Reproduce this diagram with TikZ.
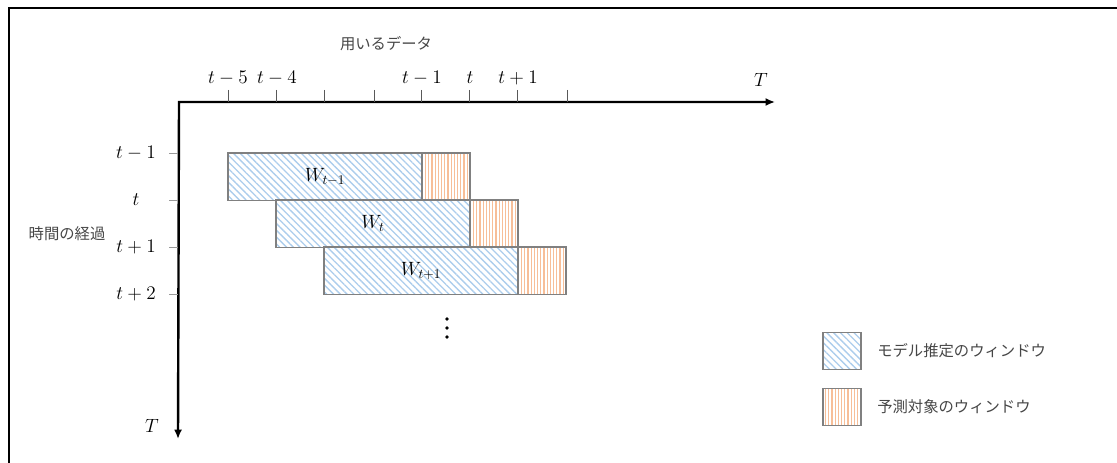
\documentclass[tikz,border=0pt]{standalone}
\usepackage{fontspec}
\newfontfamily\jpfont{Noto Sans CJK JP}
\usepackage{xcolor}
\usetikzlibrary{arrows.meta}
\usetikzlibrary{positioning}
\usetikzlibrary{patterns.meta}

\definecolor{estblue}{RGB}{172,205,236}
\definecolor{predorange}{RGB}{247,190,152}
\definecolor{textgray}{RGB}{70,70,70}

\begin{document}
\begin{tikzpicture}[
  x=0.75pt, y=-0.75pt,
  axis/.style={{Latex[length=7pt,width=6pt]}-{Latex[length=7pt,width=6pt]}, line width=1.8pt},
  tick/.style={draw=gray, line width=0.6pt},
  ticklabel/.style={font=\fontsize{14}{16}\selectfont, inner sep=0pt},
  jptext/.style={font=\jpfont\fontsize{11.5}{13}\selectfont, text=textgray, inner sep=0pt},
  estfill/.style={
    pattern={Lines[angle=-45,distance=3.6pt,line width=1.0pt]},
    pattern color=estblue
  },
  predfill/.style={
    pattern={Lines[angle=90,distance=2.4pt,line width=0.9pt]},
    pattern color=predorange
  },
  estwin/.style={
    estfill,
    draw=gray,
    line width=0.8pt,
    minimum width=145.5pt,
    minimum height=35.4pt,
    outer sep=0pt,
    font=\fontsize{14}{16}\selectfont
  },
  predwin/.style={
    predfill,
    draw=gray,
    line width=0.8pt,
    minimum width=36pt,
    minimum height=35.4pt,
    outer sep=0pt
  },
  legendbox/.style={
    draw=gray,
    line width=0.8pt,
    minimum width=28.5pt,
    minimum height=27.75pt,
    outer sep=0pt
  }
]
\useasboundingbox (0,0) rectangle (1117,463);

% frame
\draw[line width=1.4pt] (9,463) -- (9,8) -- (1117,8);

% axes
\coordinate (origin) at (179,102);
\coordinate (xend) at (775,102);
\coordinate (yend) at (178,439);
\draw[axis] (yend) -- (origin) -- (xend);

\foreach \x in {228,276,324,374,421,469,517,567}
  \draw[tick, draw=black!65] (\x,90) -- (\x,102);
\foreach \x/\lab [count=\i] in {228/t-5, 277/t-4, 422/t-1, 470/t, 518/t+1}
  \node[ticklabel, anchor=base] (hlab\i) at (\x,84) {$\lab$};
\node[ticklabel, anchor=base] (xname) at (761,87) {$T$};

\foreach \y/\lab [count=\i] in {153/t-1, 200/t, 247/t+1, 294/t+2} {
  \draw[tick, draw=black!40] (169,\y) -- (178,\y);
  \node[ticklabel] (vlab\i) at (136,\y) {$\lab$};
}
\node[ticklabel, anchor=base] (yname) at (152,432) {$T$};

\node[jptext] (xtitle) at (386,44) {用いるデータ};
\node[jptext] (ytitle) at (67,234) {時間の経過};

% windows
\node[estwin, anchor=north west] (est1) at (228,153) {$W_{t-1}$};
\node[predwin, right=0pt of est1] (pred1) {};
\node[estwin, anchor=north west] (est2) at (276,200) {$W_{t}$};
\node[predwin, right=0pt of est2] (pred2) {};
\node[estwin, anchor=north west] (est3) at (324,247) {$W_{t+1}$};
\node[predwin, right=0pt of est3] (pred3) {};

% more windows follow
\foreach \y in {319,328,337}
  \fill (447,\y) circle (1.8);

% legend
\node[legendbox, estfill] (legest) at (842,351) {};
\node[jptext, anchor=west] (legesttext) at (877,351) {モデル推定のウィンドウ};
\node[legendbox, predfill] (legpred) at (842,407) {};
\node[jptext, anchor=west] (legpredtext) at (877,407) {予測対象のウィンドウ};

\end{tikzpicture}
\end{document}
